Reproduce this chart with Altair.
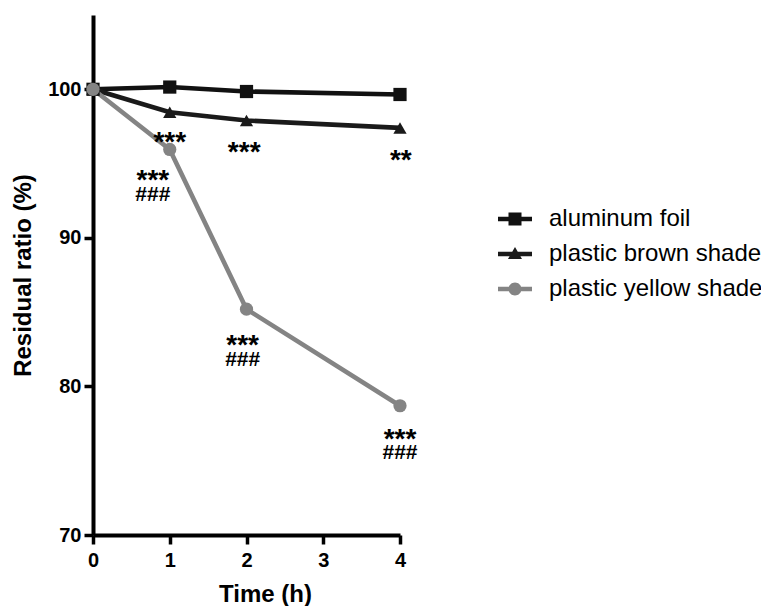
import altair as alt
import pandas as pd

# ---- data ----
series = ["aluminum foil", "plastic brown shade", "plastic yellow shade"]
times = [0, 1, 2, 4]
aluminum = [100.0, 100.15, 99.85, 99.65]
brown = [100.0, 98.45, 97.9, 97.4]
yellow = [100.0, 95.95, 85.2, 78.7]
colors = ["#111111", "#1a1a1a", "#848484"]

# significance marks (visual centres, data units)
ast_x = [1.0, 0.78, 1.97, 4.01, 1.95, 4.0]
ast_y = [96.9, 94.35, 96.23, 95.7, 83.25, 76.93]
ast_t = ["***", "***", "***", "**", "***", "***"]
hash_x = [0.78, 1.95, 4.0]
hash_y = [93.0, 81.85, 75.6]
hash_t = ["###", "###", "###"]

rows = []
for name, vals in zip(series, [aluminum, brown, yellow]):
    for t, v in zip(times, vals):
        rows.append({"series": name, "time": t, "value": v})
df = pd.DataFrame(rows)
ast_df = pd.DataFrame({"x": ast_x, "y": ast_y, "t": ast_t})
hash_df = pd.DataFrame({"x": hash_x, "y": hash_y, "t": hash_t})

FONT = "Liberation Sans, Arial, sans-serif"

xscale = alt.Scale(domain=[0, 4], nice=False, zero=False)
yscale = alt.Scale(domain=[70, 105], nice=False, zero=False)

xaxis = alt.Axis(values=[0, 1, 2, 3, 4], format="d", title="Time (h)", grid=False,
                 domainWidth=4, domainColor="black", tickColor="black",
                 tickWidth=3.5, tickSize=9, labelFontSize=20, labelFontWeight="bold",
                 labelFont=FONT, labelColor="black", labelPadding=6,
                 titleFontSize=24, titleFontWeight="bold", titleFont=FONT,
                 titleColor="black", titlePadding=12, titleX=172, labelFlush=False)
yaxis = alt.Axis(values=[70, 80, 90, 100], format="d", title="Residual ratio (%)", grid=False,
                 domainWidth=4, domainColor="black", tickColor="black",
                 tickWidth=3.5, tickSize=9, labelFontSize=20, labelFontWeight="bold",
                 labelFont=FONT, labelColor="black", labelPadding=3,
                 titleFontSize=24, titleFontWeight="bold", titleFont=FONT,
                 titleColor="black", titlePadding=12, labelFlush=False)

# legend glyphs: a short line with the series marker on it
P = 1 / 17.0
def f(v):
    return f"{v:.4f}"
bar = f"M-1,-{f(2.2*P)}H1V{f(2.2*P)}H-1Z "
sq = bar + f"M-{f(6.5*P)},-{f(6.5*P)}H{f(6.5*P)}V{f(6.5*P)}H-{f(6.5*P)}Z"
tri = bar + f"M-{f(7*P)},{f(5*P)}L0,-{f(7*P)}L{f(7*P)},{f(5*P)}Z"
cir = bar + (f"M-{f(6.5*P)},0A{f(6.5*P)},{f(6.5*P)} 0 1,1 {f(6.5*P)},0"
             f"A{f(6.5*P)},{f(6.5*P)} 0 1,1 -{f(6.5*P)},0Z")
legend_paths = [sq, tri, cir]
legend_top = [187, 222, 257]

base = alt.Chart(df)
lines = base.mark_line(strokeWidth=4.6, clip=False).encode(
    x=alt.X("time:Q", scale=xscale, axis=xaxis),
    y=alt.Y("value:Q", scale=yscale, axis=yaxis),
    stroke=alt.Stroke("series:N", scale=alt.Scale(domain=series, range=colors), legend=None),
    detail="series:N",
)
points = base.mark_point(filled=True, size=175, opacity=1, strokeWidth=0, clip=False).encode(
    x="time:Q",
    y="value:Q",
    fill=alt.Fill("series:N", scale=alt.Scale(domain=series, range=colors), legend=None),
    shape=alt.Shape("series:N", scale=alt.Scale(domain=series, range=["square", "triangle-up", "circle"]),
                    legend=None),
)

legend_layers = []
for s, c, path, top in zip(series, colors, legend_paths, legend_top):
    lg = alt.Legend(title=None, orient="none", legendX=405, legendY=top,
                    labelFontSize=24, labelFont=FONT, labelColor="black",
                    symbolSize=1156, symbolStrokeWidth=0, symbolOpacity=1,
                    labelOffset=17, padding=0, labelLimit=400)
    legend_layers.append(
        base.transform_filter(alt.datum.series == s)
        .mark_point(filled=True, opacity=0, color=c, clip=False)
        .encode(
            x="time:Q",
            y="value:Q",
            shape=alt.Shape("series:N", scale=alt.Scale(domain=[s], range=[path]), legend=lg),
        )
    )

asts = alt.Chart(ast_df).mark_text(fontSize=28, fontWeight="bold", font=FONT, color="black",
                                   baseline="alphabetic", align="center", dy=16, clip=False).encode(
    x="x:Q", y="y:Q", text="t:N")
hashes = alt.Chart(hash_df).mark_text(fontSize=21, fontWeight="bold", font=FONT, color="black",
                                      baseline="alphabetic", align="center", dy=7.5, clip=False).encode(
    x="x:Q", y="y:Q", text="t:N")

chart = alt.layer(lines, points, *legend_layers, asts, hashes).resolve_scale(
    shape="independent"
).resolve_legend(
    shape="independent"
).properties(
    width=307, height=520,
    autosize=alt.AutoSizeParams(type="none"),
    padding={"left": 85, "top": 7, "right": 361, "bottom": 71},
    background="white",
).configure_view(stroke=None)

chart.save("out.html", embed_options={"renderer": "svg", "actions": False})
